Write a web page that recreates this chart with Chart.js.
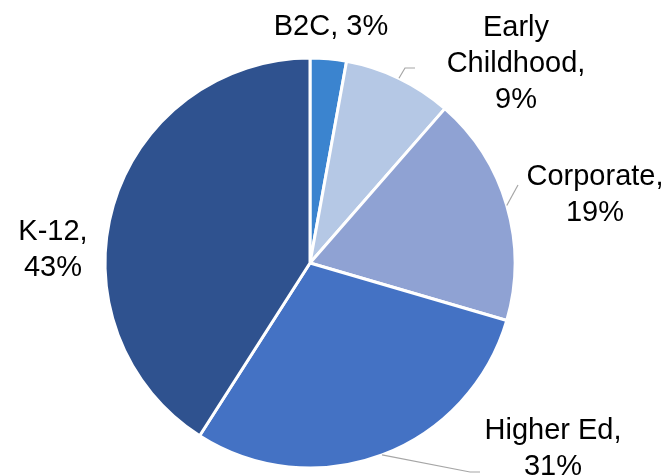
<!DOCTYPE html>
<html>
<head>
<meta charset="utf-8">
<script src="https://cdn.jsdelivr.net/npm/chart.js@4/dist/chart.umd.min.js"></script>
<style>
  html, body { margin: 0; padding: 0; background: #fff; }
  canvas { display: block; }
</style>
</head>
<body>
<canvas id="segments" width="668" height="475"></canvas>
<script>
// Data
var categories = ['B2C', 'Early Childhood', 'Corporate', 'Higher Ed', 'K-12'];
var shares = [3, 9, 19, 31, 43];
var labelLines = [
  ['B2C, 3%'],
  ['Early', 'Childhood,', '9%'],
  ['Corporate,', '19%'],
  ['Higher Ed,', '31%'],
  ['K-12,', '43%']
];
var colors = ['#3B84CF', '#B5C8E5', '#8FA2D3', '#4472C4', '#2F528F'];

// label placement (x center, first line y), leader elbow + end (null = no leader)
const labelPos = [
  { x: 331, y: 27, leader: null },
  { x: 516, y: 28, leader: [[405, 68], [415, 68]] },
  { x: 595, y: 177, leader: [[518, 185], [518, 185]] },
  { x: 553, y: 431, leader: [[470, 472], [480, 472]] },
  { x: 53, y: 232, leader: null }
];

const outsideLabels = {
  id: 'outsideLabels',
  afterDraw(chart) {
    var c = chart.ctx;
    var meta = chart.getDatasetMeta(0);
    c.save();
    meta.data.forEach(function (arc, i) {
      var p = labelPos[i];
      if (p.leader) {
        var mid = (arc.startAngle + arc.endAngle) / 2;
        var sx = arc.x + Math.cos(mid) * arc.outerRadius;
        var sy = arc.y + Math.sin(mid) * arc.outerRadius;
        c.strokeStyle = '#A6A6A6';
        c.lineWidth = 1.2;
        c.beginPath();
        c.moveTo(sx, sy);
        c.lineTo(p.leader[0][0], p.leader[0][1]);
        c.lineTo(p.leader[1][0], p.leader[1][1]);
        c.stroke();
      }
      c.fillStyle = '#000';
      c.font = '29px "Liberation Sans", Arial, sans-serif';
      c.textAlign = 'center';
      c.textBaseline = 'middle';
      labelLines[i].forEach(function (t, j) {
        c.fillText(t, p.x, p.y + j * 36);
      });
    });
    c.restore();
  }
};

var ctx_segments = document.getElementById('segments');
var segments = new Chart(ctx_segments, {
  type: 'pie',
  data: {
    labels: categories,
    datasets: [
      {
        data: shares,
        backgroundColor: colors,
        borderColor: '#ffffff',
        borderWidth: 3,
        radius: 205
      }
    ]
  },
  options: {
    responsive: false,
    animation: false,
    layout: {
      padding: { left: 0, right: 48, top: 51, bottom: 0 }
    },
    plugins: {
      legend: { display: false },
      tooltip: { enabled: false }
    }
  },
  plugins: [outsideLabels]
});
</script>
</body>
</html>
